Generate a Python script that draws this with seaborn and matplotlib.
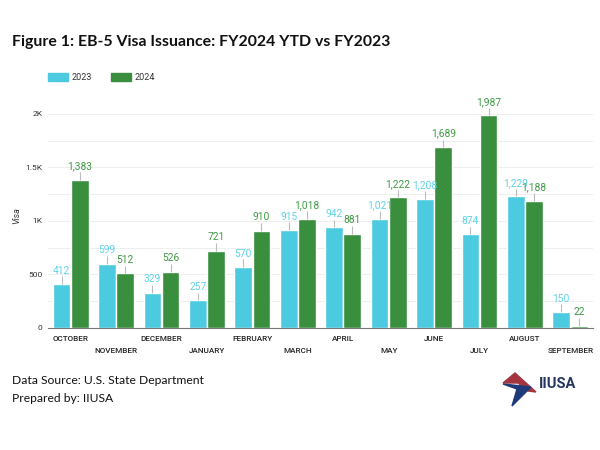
import matplotlib
matplotlib.use("Agg")
import matplotlib.pyplot as plt
import seaborn as sns
import pandas as pd
import numpy as np
from matplotlib.patches import Polygon

months = ["OCTOBER", "NOVEMBER", "DECEMBER", "JANUARY", "FEBRUARY", "MARCH",
          "APRIL", "MAY", "JUNE", "JULY", "AUGUST", "SEPTEMBER"]
v2023 = [412, 599, 329, 257, 570, 915, 942, 1021, 1208, 874, 1229, 150]
v2024 = [1383, 512, 526, 721, 910, 1018, 881, 1222, 1689, 1987, 1188, 22]
years = ["2023", "2024"]
colors = {"2023": "#4ccbe0", "2024": "#3a8f3f"}
label_colors = {"2023": "#5fd3e6", "2024": "#3f9a45"}
ytick_vals = [0, 500, 1000, 1500, 2000]
ytick_labels = ["0", "500", "1K", "1.5K", "2K"]

df = pd.DataFrame({
    "month": months * 2,
    "year": ["2023"] * len(months) + ["2024"] * len(months),
    "visa": v2023 + v2024,
})

sns.set_theme(style="white")
plt.rcParams["font.family"] = ["Roboto", "DejaVu Sans"]

fig = plt.figure(figsize=(6, 4.5), dpi=100)
ax = fig.add_axes([48 / 600, 1 - 328 / 450, (593 - 48) / 600, (328 - 103) / 450])

sns.barplot(data=df, x="month", y="visa", hue="year", order=months,
            hue_order=years, palette=colors, width=0.8, gap=0.03,
            saturation=1, ax=ax, legend=False)

ax.set_xlim(-0.5, len(months) - 0.5)
ax.set_ylim(0, 2100)

for g in np.arange(250, 2001, 250):
    ax.axhline(g, color="#eeeeee", lw=0.8, zorder=0)
ax.set_axisbelow(True)

for s in ["top", "right", "left"]:
    ax.spines[s].set_visible(False)
ax.spines["bottom"].set_color("#777777")
ax.spines["bottom"].set_linewidth(0.8)

ax.set_yticks(ytick_vals)
ax.set_yticklabels(ytick_labels, fontsize=6, color="#333333")
ax.tick_params(axis="y", length=0, pad=4)
ax.set_ylabel("Visa", fontsize=6.5, style="italic", color="#333333", labelpad=3)
ax.set_xlabel("")

ax.set_xticks(range(len(months)))
ax.set_xticklabels([])
ax.tick_params(axis="x", length=0)
for i, m in enumerate(months):
    yoff = -0.036 if i % 2 == 0 else -0.088
    ax.text(i, yoff, m, transform=ax.get_xaxis_transform(), ha="center", va="top",
            fontsize=5.9, color="#222222", fontweight="medium")

for container, yr in zip(ax.containers, years):
    for bar in container:
        h = bar.get_height()
        x = bar.get_x() + bar.get_width() / 2
        ax.vlines(x, h, h + 70, color="#bbbbbb", lw=0.8, zorder=3)
        ax.text(x, h + 78, f"{int(h):,}", ha="center", va="bottom", fontsize=7.4,
                color=label_colors[yr], zorder=4)

for k, yr in enumerate(years):
    x0 = 48 + k * 63
    fig.patches.append(plt.Rectangle((x0 / 600, 1 - 81 / 450), 20 / 600, 8 / 450,
                                     transform=fig.transFigure, color=colors[yr]))
    fig.text((x0 + 24) / 600, 1 - 77 / 450, yr, fontsize=6.5, va="center",
             color="#333333")

fig.text(12 / 600, 1 - 42 / 450, "Figure 1: EB-5 Visa Issuance: FY2024 YTD vs FY2023",
         fontsize=11.4, fontweight="bold", family=["Lato", "DejaVu Sans"],
         va="center", color="#111111")
fig.text(12 / 600, 1 - 381 / 450, "Data Source: U.S. State Department",
         fontsize=8.7, family=["Lato", "DejaVu Sans"], va="center", color="#111111")
fig.text(12 / 600, 1 - 399 / 450, "Prepared by: IIUSA",
         fontsize=8.7, family=["Lato", "DejaVu Sans"], va="center", color="#111111")

def fp(px, py):
    return (px / 600, 1 - py / 450)
red = Polygon([fp(515, 373), fp(536, 392), fp(528, 391), fp(518, 383), fp(503, 383)],
              closed=True, transform=fig.transFigure, color="#a3353f")
navy = Polygon([fp(503, 384), fp(531, 387), fp(512, 406), fp(517, 389)], closed=True,
               transform=fig.transFigure, color="#1f3a78")
fig.patches.extend([red, navy])
fig.text(539 / 600, 1 - 384 / 450, "IIUSA", fontsize=10.5, fontweight="bold",
         color="#26355f", va="center")

fig.savefig("out.png", dpi=100)
